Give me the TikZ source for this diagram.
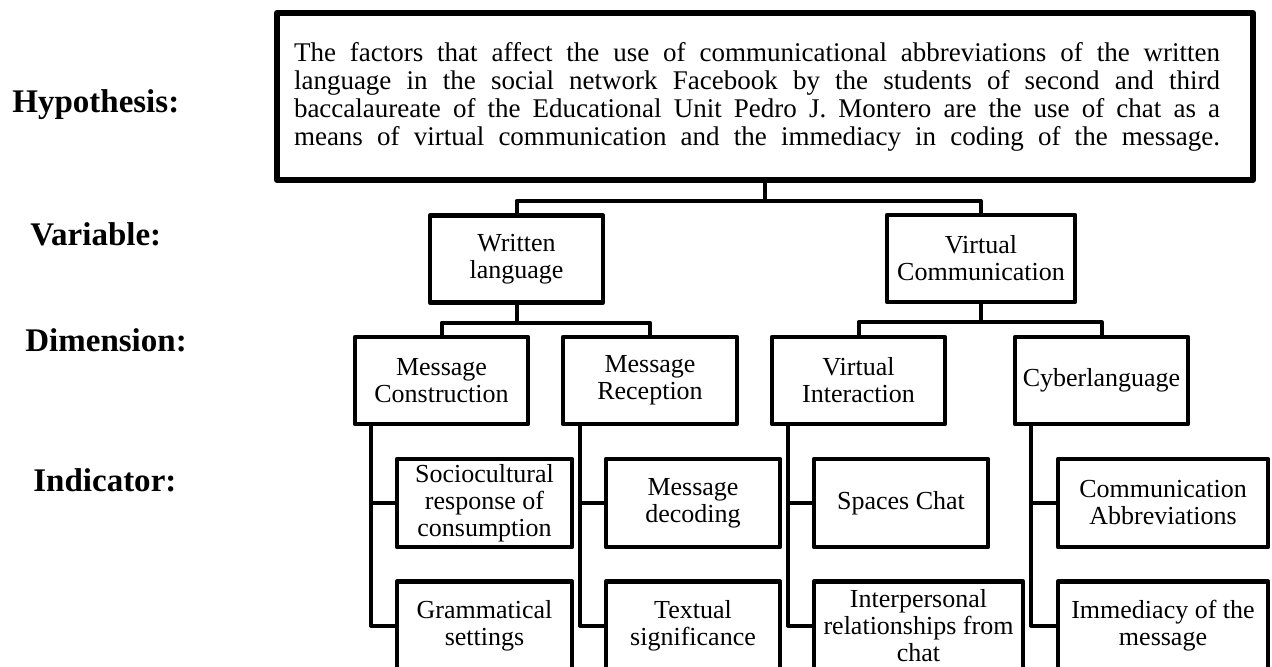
\documentclass[tikz,border=0pt]{standalone}
\usepackage{fontspec}
\setmainfont{Liberation Serif}
\usepackage{tikz}
\tikzset{box/.style={draw, line width=2.2pt, line join=round, align=center, inner sep=1pt, font=\fontsize{13}{13.5}\selectfont, minimum height=43.5pt}}
\tikzset{link/.style={line width=2pt, line join=round}}
\tikzset{lab/.style={anchor=west, inner sep=0pt, font=\fontsize{16.5}{18}\selectfont\bfseries}}

\begin{document}
\begin{tikzpicture}[x=0.5pt, y=-0.5pt]
		\useasboundingbox (0,0) rectangle (1272,666);
		\clip (0,0) rectangle (1272,666);
		% levels
		\node[lab] (lhyp) at (12,105) {Hypothesis:};
		\node[lab] (lvar) at (30,234) {Variable:};
		\node[lab] (ldim) at (25,340) {Dimension:};
		\node[lab] (lind) at (33,480) {Indicator:};
		
		\node[box, line width=3pt, minimum width=488pt, minimum height=83.5pt, font=\fontsize{13.5}{14}\selectfont] (hyp) at (765,96.5) {\makebox[463pt][s]{The factors that affect the use of communicational abbreviations of the written}\rule{8pt}{0pt}\\\makebox[463pt][s]{language in the social network Facebook by the students of second and third}\rule{8pt}{0pt}\\\makebox[463pt][s]{baccalaureate of the Educational Unit Pedro J. Montero are the use of chat as a}\rule{8pt}{0pt}\\\makebox[463pt][s]{means of virtual communication and the immediacy in coding of the message.}\rule{8pt}{0pt}};
		
		\node[box, minimum width=86.5pt] (wl) at (516.5,259) {Written\\language};
		\node[box, minimum width=94pt] (vc) at (981,258.5) {Virtual\\Communication};
		
		\node[box, minimum width=86.5pt] (mc) at (441.5,380.5) {Message\\Construction};
		\node[box, minimum width=87pt] (mr) at (650,380.5) {Message\\Reception};
		\node[box, minimum width=86.5pt] (vi) at (858.5,380.5) {Virtual\\Interaction};
		\node[box, minimum width=86.5pt] (cy) at (1101.5,380.5) {Cyberlanguage};
		
		\node[box, minimum width=87.5pt, minimum height=44pt] (sc) at (484.5,503) {Sociocultural\\response of\\consumption};
		\node[box, minimum width=87.5pt, minimum height=44pt] (gs) at (484.5,625.5) {Grammatical\\settings};
		\node[box, minimum width=87pt, minimum height=44pt] (md) at (693,503) {Message\\decoding};
		\node[box, minimum width=87pt, minimum height=44pt] (ts) at (693,625.5) {Textual\\significance};
		\node[box, minimum width=87pt, minimum height=44pt] (sp) at (901,503) {Spaces Chat};
		\node[box, minimum width=104.5pt, minimum height=44pt] (ir) at (918.5,625.5) {Interpersonal\\relationships from\\chat};
		\node[box, minimum width=105pt, minimum height=44pt] (ca) at (1163,503) {Communication\\Abbreviations};
		\node[box, minimum width=105pt, minimum height=44pt] (im) at (1163,625.5) {Immediacy of the\\message};
		
		% tree
		\draw[link] (hyp.south) --++(0,18) -| (wl.north) (hyp.south) --++(0,18) -| (vc.north);
		\draw[link] (wl.south) --++(0,18) -| (mc.north) (wl.south) --++(0,18) -| (mr.north);
		\draw[link] (vc.south) --++(0,18) -| (vi.north) (vc.south) --++(0,18) -| (cy.north);
		\draw[link] ([xshift=9pt]mc.south west) |- (sc.west) ([xshift=9pt]mc.south west) |- (gs.west);
		\draw[link] ([xshift=9.5pt]mr.south west) |- (md.west) ([xshift=9.5pt]mr.south west) |- (ts.west);
		\draw[link] ([xshift=9pt]vi.south west) |- (sp.west) ([xshift=9pt]vi.south west) |- (ir.west);
		\draw[link] ([xshift=9pt]cy.south west) |- (ca.west) ([xshift=9pt]cy.south west) |- (im.west);
	\end{tikzpicture}
\end{document}
